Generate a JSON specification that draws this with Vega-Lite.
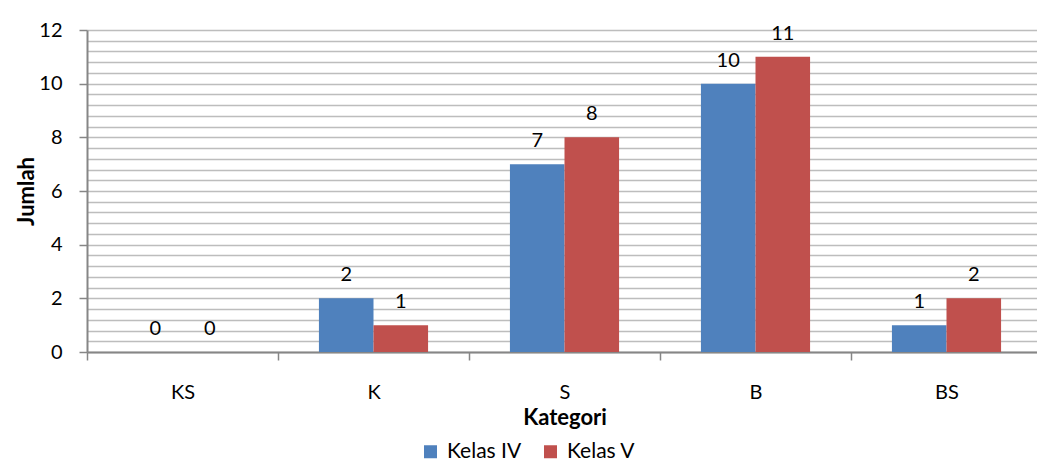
{
  "$schema": "https://vega.github.io/schema/vega-lite/v6.json",
  "autosize": {"type": "none"},
  "padding": {"left": 87, "top": 30, "right": 0, "bottom": 112},
  "width": 955,
  "height": 322,
  "background": "#ffffff",
  "data": {
    "values": [
      {"kategori": "KS", "kelas": "Kelas IV", "jumlah": 0},
      {"kategori": "KS", "kelas": "Kelas V", "jumlah": 0},
      {"kategori": "K", "kelas": "Kelas IV", "jumlah": 2},
      {"kategori": "K", "kelas": "Kelas V", "jumlah": 1},
      {"kategori": "S", "kelas": "Kelas IV", "jumlah": 7},
      {"kategori": "S", "kelas": "Kelas V", "jumlah": 8},
      {"kategori": "B", "kelas": "Kelas IV", "jumlah": 10},
      {"kategori": "B", "kelas": "Kelas V", "jumlah": 11},
      {"kategori": "BS", "kelas": "Kelas IV", "jumlah": 1},
      {"kategori": "BS", "kelas": "Kelas V", "jumlah": 2}
    ]
  },
  "encoding": {
    "x": {
      "field": "kategori",
      "type": "nominal",
      "sort": ["KS", "K", "S", "B", "BS"],
      "scale": {"paddingInner": 0, "paddingOuter": 0},
      "axis": {
        "title": "Kategori",
        "labelAngle": 0,
        "tickBand": "extent",
        "tickSize": 8,
        "labelPadding": 22,
        "titlePadding": 5,
        "titleFontSize": 22,
        "titleFontWeight": "bold",
        "grid": false
      }
    },
    "xOffset": {
      "field": "kelas",
      "type": "nominal",
      "scale": {"paddingInner": 0, "paddingOuter": 0.75}
    },
    "y": {
      "field": "jumlah",
      "type": "quantitative",
      "scale": {"domain": [0, 12], "nice": false},
      "axis": {
        "title": "Jumlah",
        "values": [0, 0.4, 0.8, 1.2, 1.6, 2, 2.4, 2.8, 3.2, 3.6, 4, 4.4, 4.8, 5.2, 5.6, 6, 6.4, 6.8, 7.2, 7.6, 8, 8.4, 8.8, 9.2, 9.6, 10, 10.4, 10.8, 11.2, 11.6, 12],
        "labelExpr": "datum.value % 2 === 0 ? '' + datum.value : ''",
        "labelOverlap": false,
        "tickOpacity": {"condition": {"test": "datum.value % 2 === 0", "value": 1}, "value": 0},
        "tickSize": 8,
        "labelPadding": 17,
        "titlePadding": 0,
        "titleFontSize": 22,
        "titleFontWeight": "bold",
        "grid": true,
        "gridColor": "#bdbdbd",
        "gridWidth": 1.5
      }
    }
  },
  "layer": [
    {
      "mark": {"type": "bar"},
      "encoding": {
        "color": {
          "field": "kelas",
          "type": "nominal",
          "scale": {"domain": ["Kelas IV", "Kelas V"], "range": ["#4F81BD", "#C0504D"]},
          "legend": {
            "title": null,
            "orient": "none",
            "direction": "horizontal",
            "legendX": 333,
            "legendY": 411,
            "symbolType": "square",
            "symbolSize": 169,
            "symbolStrokeWidth": 0,
            "labelOffset": 6,
            "columnPadding": 18,
            "labelFontSize": 21,
            "labelFont": "Lato",
            "labelColor": "#000000"
          }
        }
      }
    },
    {
      "mark": {"type": "text", "baseline": "alphabetic", "dy": -17, "fontSize": 20, "font": "Lato", "color": "#000000"},
      "encoding": {
        "text": {"field": "jumlah", "type": "quantitative"}
      }
    }
  ],
  "config": {
    "view": {"stroke": null},
    "font": "Lato",
    "axis": {
      "labelFont": "Lato",
      "labelFontSize": 20,
      "labelColor": "#000000",
      "titleFont": "Lato",
      "titleColor": "#000000",
      "domainColor": "#868686",
      "domainWidth": 2,
      "tickColor": "#868686",
      "tickWidth": 1.5
    }
  }
}
